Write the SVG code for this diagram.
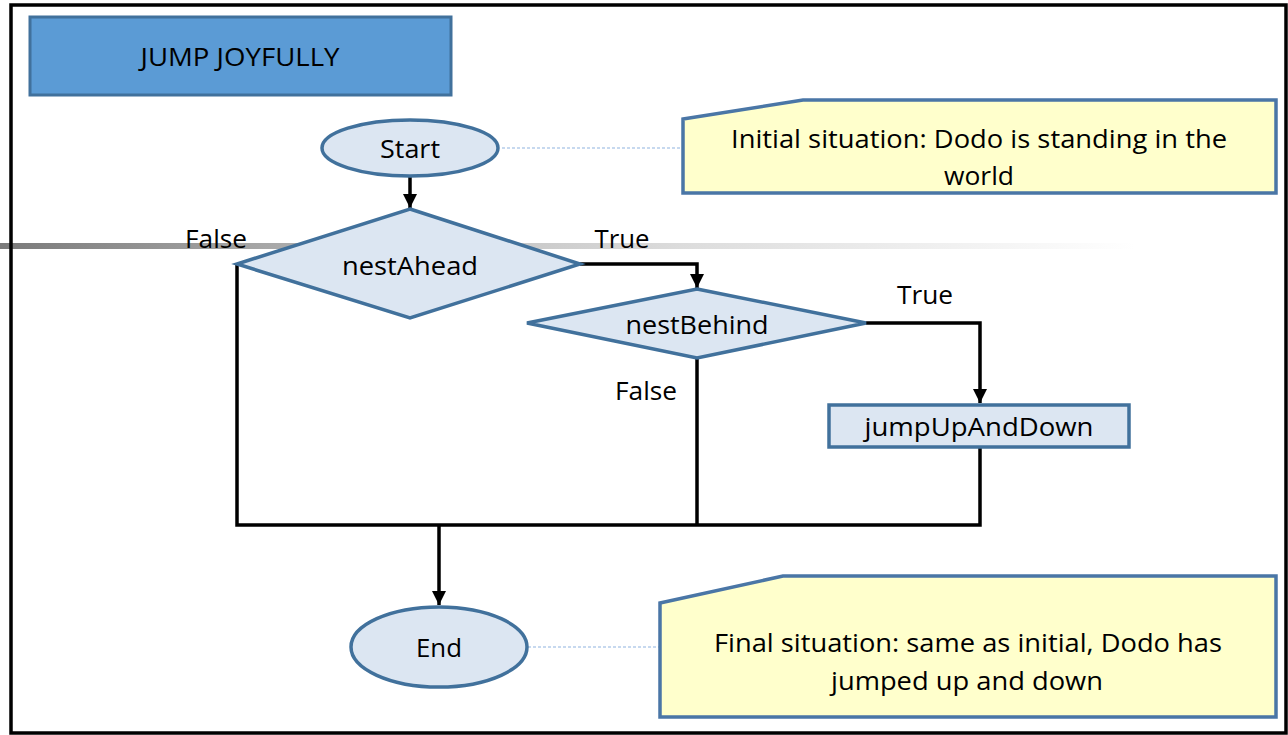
<svg xmlns="http://www.w3.org/2000/svg" width="1288" height="735" viewBox="0 0 1288 735">
  <style>
    text { font-family: "Open Sans", "Noto Sans", "Liberation Sans", sans-serif; fill: #000; text-anchor: middle; dominant-baseline: central; }
    .lbl { font-size: 25px; }
    .shape { fill: #dce6f2; stroke: #41719c; stroke-width: 3.5; }
    .note { fill: #ffffcc; stroke: #4a76a6; stroke-width: 3.5; }
    .wire { fill: none; stroke: #000; stroke-width: 3.5; }
    .dot { fill: none; stroke: #8fb4e0; stroke-width: 1.2; stroke-dasharray: 3 2; }
  </style>
  <defs>
    <linearGradient id="band" x1="0" y1="0" x2="1" y2="0">
      <stop offset="0" stop-color="#7a7a7a"/>
      <stop offset="0.3" stop-color="#b4b4b4"/>
      <stop offset="0.6" stop-color="#dcdcdc"/>
      <stop offset="1" stop-color="#ffffff"/>
    </linearGradient>
    <marker id="arrow" viewBox="0 0 10 10" refX="10" refY="5" markerWidth="4" markerHeight="4" markerUnits="strokeWidth" orient="auto">
      <path d="M0,0 L10,5 L0,10 z" fill="#000"/>
    </marker>
  </defs>

  <rect width="1288" height="735" fill="#fff"/>
  <!-- horizontal shaded bar -->
  <rect x="0" y="243" width="1135" height="6" fill="url(#band)"/>
  <!-- outer frame -->
  <rect x="11" y="5" width="1275" height="728" fill="none" stroke="#000" stroke-width="3.5"/>

  <g id="title">
    <rect x="30" y="17" width="421" height="78" fill="#5b9bd5" stroke="#41719c" stroke-width="3"/>
    <text x="240" y="56" font-size="25" textLength="199" lengthAdjust="spacingAndGlyphs">JUMP JOYFULLY</text>
  </g>

  <g id="connectors">
    <path class="wire" d="M410,177 V208" marker-end="url(#arrow)"/>
    <path class="wire" d="M580,264 H697 V288" marker-end="url(#arrow)"/>
    <path class="wire" d="M866,323 H980 V403" marker-end="url(#arrow)"/>
    <path class="wire" d="M237,264 V525 H980 V447"/>
    <path class="wire" d="M697,358 V525"/>
    <path class="wire" d="M439,525 V605" marker-end="url(#arrow)"/>
    <path class="dot" d="M502,148 H683"/>
    <path class="dot" d="M528,647 H660"/>
    <text class="lbl" x="216" y="238" textLength="62" lengthAdjust="spacingAndGlyphs">False</text>
    <text class="lbl" x="622" y="238" textLength="55" lengthAdjust="spacingAndGlyphs">True</text>
    <text class="lbl" x="925" y="294" textLength="56" lengthAdjust="spacingAndGlyphs">True</text>
    <text class="lbl" x="646" y="390" textLength="62" lengthAdjust="spacingAndGlyphs">False</text>
  </g>

  <g id="start">
    <ellipse class="shape" cx="410" cy="148" rx="88" ry="28"/>
    <text class="lbl" x="410" y="148" textLength="60" lengthAdjust="spacingAndGlyphs">Start</text>
  </g>

  <g id="nestAhead">
    <polygon class="shape" points="410,209 580,264 410,318 237,264"/>
    <text class="lbl" x="410" y="265" textLength="136" lengthAdjust="spacingAndGlyphs">nestAhead</text>
  </g>

  <g id="nestBehind">
    <polygon class="shape" points="697,289 866,323 697,358 527,323"/>
    <text class="lbl" x="697" y="324" textLength="143" lengthAdjust="spacingAndGlyphs">nestBehind</text>
  </g>

  <g id="jumpUpAndDown">
    <rect class="shape" x="829" y="405" width="300" height="42"/>
    <text class="lbl" x="979" y="426" textLength="229" lengthAdjust="spacingAndGlyphs">jumpUpAndDown</text>
  </g>

  <g id="end">
    <ellipse class="shape" cx="439" cy="647" rx="88" ry="40"/>
    <text class="lbl" x="439" y="647" textLength="46" lengthAdjust="spacingAndGlyphs">End</text>
  </g>

  <g id="note-initial">
    <polygon class="note" points="683,119 803,100 1276,100 1276,193 683,193"/>
    <text class="lbl" x="979" y="138" textLength="496" lengthAdjust="spacingAndGlyphs">Initial situation: Dodo is standing in the</text>
    <text class="lbl" x="979" y="175" textLength="70" lengthAdjust="spacingAndGlyphs">world</text>
  </g>

  <g id="note-final">
    <polygon class="note" points="660,603 783,576 1276,576 1276,717 660,717"/>
    <text class="lbl" x="968" y="642" textLength="508" lengthAdjust="spacingAndGlyphs">Final situation: same as initial, Dodo has</text>
    <text class="lbl" x="967" y="680" textLength="272" lengthAdjust="spacingAndGlyphs">jumped up and down</text>
  </g>
</svg>
